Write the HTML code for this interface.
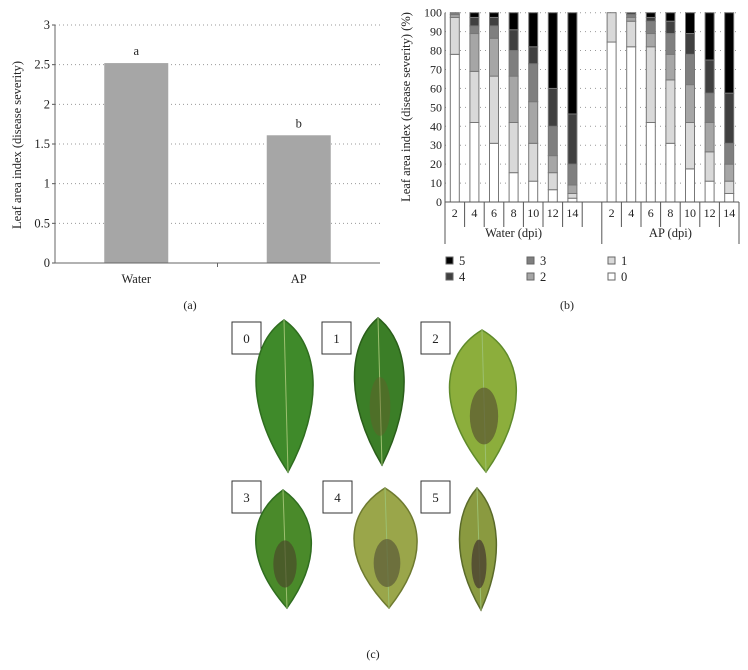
<!DOCTYPE html>
<html><head><meta charset="utf-8"><style>
body{margin:0;background:#fff;font-family:"Liberation Serif",serif;}
svg text{font-family:"Liberation Serif",serif;fill:#222;}
</style></head><body>
<svg width="748" height="665" viewBox="0 0 748 665">
<g id="chartA"></g>
<g id="chartB"></g>
<g id="leaves"></g>
<text x="190" y="309" font-size="12" text-anchor="middle">(a)</text>
<text x="567" y="309" font-size="12" text-anchor="middle">(b)</text>
<text x="373" y="658" font-size="12" text-anchor="middle">(c)</text>
</svg>
<script>
const NS="http://www.w3.org/2000/svg";
function mk(p,t,a){const e=document.createElementNS(NS,t);for(const k in a)e.setAttribute(k,a[k]);p.appendChild(e);return e;}

// ---- Chart A data ----
const catsA=["Water","AP"];
const valsA=[2.52,1.61];
const lettersA=["a","b"];
const ticksA=[0,0.5,1,1.5,2,2.5,3];

// ---- Chart B data ----
const daysB=[2,4,6,8,10,12,14];
const groupsB=["Water (dpi)","AP (dpi)"];
const levelsB=["0","1","2","3","4","5"];
const waterL0=[78,42,31,15.5,11,6.5,2];
const waterL1=[19.5,27,35.5,26.5,20,9,2.5];
const waterL2=[1.5,20,20,24.5,22,9,4.5];
const waterL3=[1,4,6.5,13.5,20,15.5,11];
const waterL4=[0,4.5,4.5,11,9,20,26.5];
const waterL5=[0,2.5,2.5,9,18,40,53.5];
const apL0=[84.5,82,42,31,17.5,11,4.5];
const apL1=[15.5,13.5,40,33.5,24.5,15.5,6.5];
const apL2=[0,2,7,13.5,20,15.5,9];
const apL3=[0,1.5,6.5,11,16,15.5,11];
const apL4=[0,1,2,6.5,11,17.5,26.5];
const apL5=[0,0,2.5,4.5,11,25,42.5];
const ticksB=[0,10,20,30,40,50,60,70,80,90,100];
const fillsB=["#ffffff","#d9d9d9","#a6a6a6","#7f7f7f","#404040","#000000"];

// ---- draw A ----
(function(){
const g=document.getElementById('chartA');
const x0=55,x1=380,yb=263,yt=25;
const ys=v=>yb-(v/3)*(yb-yt);
ticksA.forEach(t=>{
 if(t>0){const l=mk(g,'line',{x1:x0,x2:x1,y1:ys(t),y2:ys(t),stroke:'#999','stroke-dasharray':'1,3'});}
 const tx=mk(g,'text',{x:x0-5,y:ys(t)+4,'font-size':12.5,'text-anchor':'end'});tx.textContent=t;
 
 mk(g,'line',{x1:x0-3,x2:x0,y1:ys(t),y2:ys(t),stroke:'#555'});
});
const bw=(x1-x0)/catsA.length;
catsA.forEach((c,i)=>{
 const cx=x0+bw*(i+0.5);
 const r=mk(g,'rect',{x:cx-32,y:ys(valsA[i]),width:64,height:yb-ys(valsA[i]),fill:'#a6a6a6'});
 
 const lt=mk(g,'text',{x:cx,y:ys(valsA[i])-8,'font-size':12.5,'text-anchor':'middle'});lt.textContent=lettersA[i];
 
 const xl=mk(g,'text',{x:cx,y:yb+20,'font-size':12.5,'text-anchor':'middle'});xl.textContent=c;
 
});
mk(g,'line',{x1:x0,x2:x0,y1:yt,y2:yb,stroke:'#666'});
mk(g,'line',{x1:x0,x2:x1,y1:yb,y2:yb,stroke:'#666'});
mk(g,'line',{x1:x0+bw,x2:x0+bw,y1:yb,y2:yb+4,stroke:'#666'});
const yt2=mk(g,'text',{x:0,y:0,'font-size':12.5,'text-anchor':'middle',transform:'translate(21,145) rotate(-90)'});
yt2.textContent='Leaf area index (disease severity)';

})();

// ---- draw B ----
(function(){
const g=document.getElementById('chartB');
const x0=445,x1=739,yb=202,yt=12.7;
const ys=v=>yb-(v/100)*(yb-yt);
const cw=(x1-x0)/15;
ticksB.forEach(t=>{
 if(t>0){const l=mk(g,'line',{x1:x0,x2:x1,y1:ys(t),y2:ys(t),stroke:'#999','stroke-dasharray':'1,4'});}
 const tx=mk(g,'text',{x:x0-3,y:ys(t)+4,'font-size':12,'text-anchor':'end'});tx.textContent=t;
 
});
const water=[waterL0,waterL1,waterL2,waterL3,waterL4,waterL5];
const ap=[apL0,apL1,apL2,apL3,apL4,apL5];
[water,ap].forEach((ser,gi)=>{
 daysB.forEach((d,di)=>{
  const slot=gi*8+di;const cx=x0+cw*(slot+0.5);
  let cum=0;
  ser.forEach((arr,li)=>{
   const v=arr[di];if(v<=0){return;}
   const r=mk(g,'rect',{x:cx-4.5,y:ys(cum+v),width:9,height:ys(cum)-ys(cum+v),fill:fillsB[li],stroke:'#777','stroke-width':1});
   
   cum+=v;
  });
  const lb=mk(g,'text',{x:cx,y:217,'font-size':12,'text-anchor':'middle'});lb.textContent=d;
  
 });
 const gl=mk(g,'text',{x:x0+cw*(gi*8+3.5),y:237,'font-size':12.5,'text-anchor':'middle'});gl.textContent=groupsB[gi];
 
});
mk(g,'line',{x1:x0,x2:x0,y1:yt,y2:yb,stroke:'#555'});
mk(g,'line',{x1:x0,x2:x1,y1:yb,y2:yb,stroke:'#555'});
for(let s=0;s<=15;s++){
 const x=x0+cw*s;const long=(s===0||s===8||s===15);
 mk(g,'line',{x1:x,x2:x,y1:yb,y2:long?244:227,stroke:'#555'});
}
const yt2=mk(g,'text',{x:0,y:0,'font-size':12.5,'text-anchor':'middle',transform:'translate(410,107) rotate(-90)'});
yt2.textContent='Leaf area index (disease severity) (%)';

const order=[5,4,3,2,1,0];
order.forEach((li,k)=>{
 const col=Math.floor(k/2),row=k%2;
 const x=446+col*81,y=257+row*16;
 const r=mk(g,'rect',{x:x,y:y,width:7,height:7,fill:fillsB[li],stroke:'#666'});
 
 const t=mk(g,'text',{x:x+13,y:y+8,'font-size':12.5});t.textContent=levelsB[li];
 
});
})();

// ---- leaves ----
(function(){
const g=document.getElementById('leaves');
const boxes=[[232,322,'0'],[322,322,'1'],[421,322,'2'],[232,481,'3'],[323,481,'4'],[421,481,'5']];
boxes.forEach(b=>{
 const r=mk(g,'rect',{x:b[0],y:b[1],width:29,height:32,fill:'#fff',stroke:'#333'});
 
 const t=mk(g,'text',{x:b[0]+14.5,y:b[1]+21,'font-size':13,'text-anchor':'middle'});t.textContent=b[2];
});
const leaves=[
 [284,320,248,320,472,'#3f8a2a','#2f6d1f',null,0],
 [378,318,348,410,465,'#3b7e27','#2a5e1a','#6b5a2a',0.4],
 [482,330,440,525,472,'#8cae3c','#5f8a2a','#5a5530',0.7],
 [283,490,248,318,608,'#4a8a2a','#2f6d1f','#4a4a2a',0.7],
 [385,488,345,425,608,'#9aa64a','#6e7a30','#5a5a38',0.7],
 [477,488,455,500,610,'#8a9a40','#5a6a2a','#4a4030',0.8]
];
leaves.forEach((L,i)=>{
 const [cx,top,xl,xr,bot,c1,c2,spot,op]=L;
 const mid=(top+bot)/2;
 const d=`M${cx},${top} C${xr},${top+25} ${xr+4},${mid+10} ${cx+4},${bot} C${xl-4},${mid+10} ${xl},${top+25} ${cx},${top} Z`;
 const p=mk(g,'path',{d:d,fill:c1,stroke:c2,'stroke-width':1.5});
 
 mk(g,'line',{x1:cx,y1:top,x2:cx+4,y2:bot,stroke:'#9cc070','stroke-width':1});
 if(spot) mk(g,'ellipse',{cx:cx+2,cy:mid+15,rx:(xr-xl)/6,ry:(bot-top)/5,fill:spot,opacity:op});
});
})();
</script>
</body></html>
